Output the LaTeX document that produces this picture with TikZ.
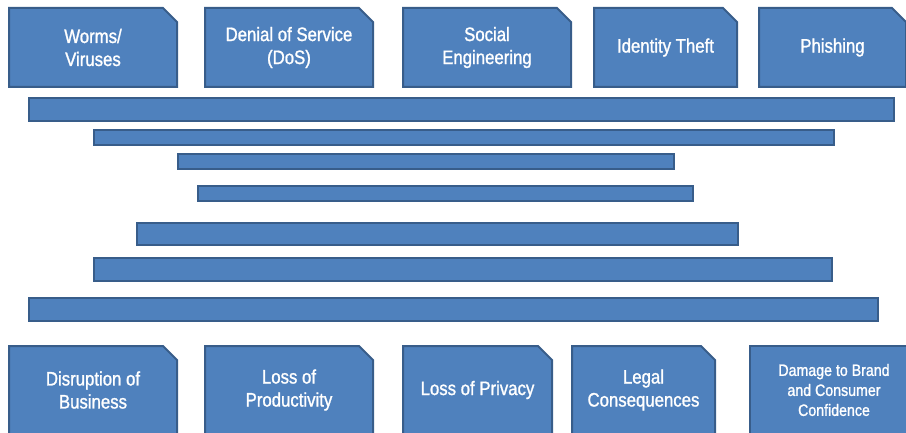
\documentclass[tikz,border=0pt]{standalone}
\usepackage{fontspec}
\setmainfont{Liberation Sans}[FakeStretch=0.86,FakeBold=1.2]
\usetikzlibrary{positioning,shapes.misc}
\definecolor{boxblue}{HTML}{4F81BD}
\definecolor{boxedge}{HTML}{385D8A}

\begin{document}
\begin{tikzpicture}[x=1pt,y=1pt,
    card/.style={chamfered rectangle,chamfered rectangle corners=north east,
      chamfered rectangle xsep=6.5pt,chamfered rectangle ysep=7.5pt,
      draw=boxedge,fill=boxblue,line width=2pt,inner sep=0pt,
      text=white,align=center,font=\fontsize{19.5}{23}\selectfont},
    threat/.style={card,minimum height=79pt},
    impact/.style={card,minimum height=88pt},
    layer/.style={rectangle,draw=boxedge,fill=boxblue,line width=2pt,inner sep=0pt},
    node distance=26pt
  ]
    \useasboundingbox (0,0) rectangle (906,432);
    % threats
    \node[threat,minimum width=168pt] (worms) at (93,384.5) {Worms/\\Viruses};
    \node[threat,minimum width=168pt,right=of worms] (dos) {Denial of Service\\(DoS)};
    \node[threat,minimum width=168pt,right=28pt of dos] (social) {Social\\Engineering};
    \node[threat,minimum width=143pt,right=21pt of social] (identity) {Identity Theft};
    \node[threat,minimum width=147pt,right=20pt of identity] (phishing) {Phishing};
    % layers
    \node[layer,minimum width=865pt,minimum height=23pt] (l1) at (461.5,322.5) {};
    \node[layer,minimum width=740pt,minimum height=15pt] (l2) at (464,294.5) {};
    \node[layer,minimum width=496pt,minimum height=15pt] (l3) at (426,270.5) {};
    \node[layer,minimum width=495pt,minimum height=15pt] (l4) at (445.5,238.5) {};
    \node[layer,minimum width=601pt,minimum height=22pt] (l5) at (437.5,198) {};
    \node[layer,minimum width=738pt,minimum height=23pt] (l6) at (463,162.5) {};
    \node[layer,minimum width=849pt,minimum height=23pt] (l7) at (453.5,122.5) {};
    % impacts
    \node[impact,minimum width=168pt] (disrupt) at (93,42) {Disruption of\\Business};
    \node[impact,minimum width=168pt,right=of disrupt] (productivity) {Loss of\\Productivity};
    \node[impact,minimum width=149pt,right=28pt of productivity] (privacy) {Loss of Privacy};
    \node[impact,minimum width=143pt,right=18pt of privacy] (legal) {Legal\\Consequences};
    \node[impact,rectangle,minimum width=168pt,right=33pt of legal,
      font=\fontsize{16.5}{20}\selectfont] (brand) {Damage to Brand\\and Consumer\\Confidence};
  \end{tikzpicture}
\end{document}
